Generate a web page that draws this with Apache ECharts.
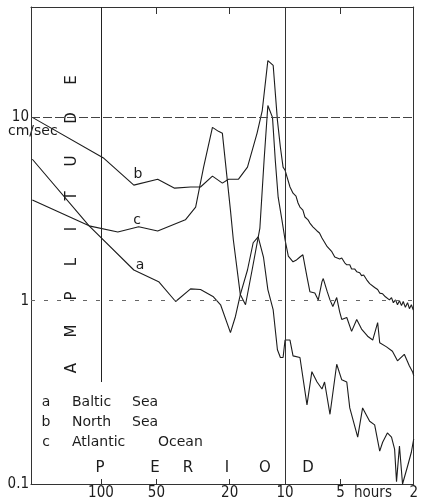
<!DOCTYPE html>
<html><head><meta charset="utf-8">
<script src="https://cdn.jsdelivr.net/npm/echarts@6/dist/echarts.min.js"></script>
<style>html,body{margin:0;padding:0;background:#fff}#c{width:421px;height:504px}</style>
</head><body><div id="c"></div>
<script>
// Axis ticks and labels
const periodTicks = [100, 50, 20, 10, 5, 2];
const periodTickLabels = ['100', '50', '20', '10', '5', '2'];
const periodTopTicks = [50, 20, 5];
const amplitudeTicks = [0.1, 1, 10];
const amplitudeTickLabels = ['0.1', '1', '10'];
const seriesLetters = ['a', 'b', 'c'];
const seriesNames = ['Baltic', 'North', 'Atlantic'];
const seriesNames2 = ['Sea', 'Sea', 'Ocean'];

// [period (hours), amplitude (cm/sec)]
const baltic = [
  [236,5.91],[116,2.56],[66.3,1.47],[48.6,1.27],[39.3,0.99],[32.6,1.16],[28.8,1.15],
  [24.5,1.05],[22.4,0.95],[19.8,0.67],[18.6,0.82],[17.5,1.08],[16.0,1.47],[14.9,2.07],
  [14.0,2.23],[13.1,1.73],[12.4,1.15],[11.6,0.89],[11.0,0.54],[10.6,0.49],[10.25,0.49],
  [10,0.61],[9.4,0.61],[9.05,0.50],[8.3,0.49],[7.6,0.27],[7.15,0.41],[6.7,0.36],
  [6.3,0.33],[6.1,0.36],[5.7,0.24],[5.24,0.45],[4.92,0.37],[4.62,0.36],[4.45,0.26],
  [4.03,0.18],[3.79,0.26],[3.47,0.22],[3.26,0.21],[3.06,0.151],[2.95,0.169],[2.78,0.19],
  [2.64,0.18],[2.54,0.155],[2.48,0.103],[2.39,0.161],[2.30,0.1],[2.16,0.125],[2.06,0.149],[2.0,0.176]
];
const northSea = [
  [236,10],[96.4,5.98],[66.3,4.27],[49.2,4.60],[39.8,4.11],[32.6,4.17],[28.8,4.17],
  [24.8,4.78],[21.9,4.38],[20.3,4.60],[17.9,4.60],[16.0,5.35],[14.2,8.18],[13.3,10.9],
  [12.4,20.4],[11.6,19.2],[11.0,9.63],[10.6,6.87],[10.25,5.35],
  [10,5.15],[9.75,4.72],[9.4,4.17],[9.05,3.86],[8.72,3.72],[8.5,3.41],[8.3,3.24],[8.0,3.12],
  [7.8,2.86],[7.5,2.76],[7.33,2.65],[7.06,2.53],[6.89,2.56],[6.7,2.40],[6.5,2.34],[6.3,2.20],
  [6.15,2.23],[5.9,1.97],[5.78,2.01],[5.57,1.85],[5.37,1.73],[5.24,1.76],[5.05,1.69],[4.92,1.71],
  [4.74,1.61],[4.62,1.57],[4.45,1.57],[4.35,1.49],[4.19,1.49],[4.08,1.44],[3.93,1.42],[3.84,1.37],
  [3.74,1.38],[3.60,1.30],[3.47,1.24],[3.39,1.25],[3.26,1.18],[3.14,1.15],[3.06,1.10],[2.95,1.09],
  [2.85,1.05],[2.78,1.05],[2.71,1.01],[2.64,1.04],[2.58,0.975],[2.51,1.01],[2.45,0.95],[2.39,1.0],
  [2.33,0.94],[2.28,0.99],[2.22,0.92],[2.16,0.975],[2.11,0.905],[2.06,0.95],[2.01,0.89]
];
const atlantic = [
  [236,3.54],[116,2.56],[81,2.37],[62.4,2.53],[49.2,2.40],[34.8,2.76],[30.6,3.24],[27.7,5.35],
  [24.8,8.82],[23.0,8.39],[21.9,8.18],[19.8,3.12],[19.1,2.15],[17.5,1.08],[16.4,0.95],[15.1,1.47],
  [13.7,2.49],[13.0,5.84],[12.4,11.6],[11.7,10],[11.3,5.84],[10.9,3.67],[10.4,2.76],[10,2.15],
  [9.6,1.75],[9.05,1.63],[8.72,1.66],[8.3,1.73],[8.0,1.78],[7.6,1.35],[7.33,1.12],[6.89,1.10],
  [6.6,1.01],[6.3,1.27],[6.2,1.32],[5.9,1.12],[5.7,1.01],[5.5,0.93],[5.24,1.04],[5.05,0.87],
  [4.92,0.79],[4.62,0.81],[4.35,0.68],[4.08,0.79],[3.84,0.70],[3.56,0.64],[3.34,0.61],[3.14,0.76],
  [3.06,0.59],[2.81,0.56],[2.61,0.53],[2.45,0.47],[2.25,0.51],[2.11,0.44],[2.03,0.41],[2.0,0.39]
];

const ink = '#1c1c1c';
const numFont = '"Liberation Sans Narrow","DejaVu Sans Condensed",sans-serif';
const txtFont = '"DejaVu Sans",sans-serif';

function labelFor(ticks, labels) {
  return function (v) {
    let best = 0, bd = Infinity;
    ticks.forEach((t, i) => { const d = Math.abs(Math.log(v / t)); if (d < bd) { bd = d; best = i; } });
    return bd < 0.01 ? labels[best] : '';
  };
}

const chart = echarts.init(document.getElementById('c'), null, {renderer: 'canvas'});

function txt(s, x, y, opts) {
  return Object.assign({
    type: 'text', x: x, y: y, silent: true,
    style: Object.assign({text: s, fill: ink, font: '14px ' + txtFont, textAlign: 'center', textVerticalAlign: 'middle'}, (opts && opts.style) || {})
  }, opts && opts.rotation !== undefined ? {rotation: opts.rotation} : {});
}

const graphics = [];
graphics.push(txt('cm/sec', 8, 131, {style: {textAlign: 'left', font: '14px ' + txtFont}}));
const ampLetters = ['A','M','P','L','I','T','U','D','E'];
const ampY = [368, 331, 296, 262, 229, 196, 161, 118, 80];
ampLetters.forEach((l, i) => graphics.push(txt(l, 72, ampY[i], {rotation: Math.PI / 2, style: {font: '15px ' + txtFont}})));
const perLetters = ['P','E','R','I','O','D'];
const perX = [100, 155, 188, 227, 265, 308];
perLetters.forEach((l, i) => graphics.push(txt(l, perX[i], 468, {style: {font: '15px ' + txtFont}})));
const legY = [402, 422, 442];
const leg2X = [132, 132, 158];
seriesLetters.forEach((l, i) => {
  graphics.push(txt(l, 46, legY[i], {style: {font: '14px ' + txtFont}}));
  graphics.push(txt(seriesNames[i], 72, legY[i], {style: {textAlign: 'left', font: '14px ' + txtFont}}));
  graphics.push(txt(seriesNames2[i], leg2X[i], legY[i], {style: {textAlign: 'left', font: '14px ' + txtFont}}));
});
graphics.push(txt('a', 140, 265));
graphics.push(txt('b', 138, 174));
graphics.push(txt('c', 137, 220));
graphics.push(txt('hours', 354, 493, {style: {textAlign: 'left', font: '15px ' + numFont}}));

const gridMarks = {
  silent: true, symbol: 'none', label: {show: false}, animation: false,
  data: [
    [{coord: [100, 0.36], lineStyle: {color: '#222', width: 1, type: 'solid'}}, {coord: [100, 40]}],
    [{coord: [10, 0.1], lineStyle: {color: '#333', width: 1, type: 'solid'}}, {coord: [10, 40]}],
    [{coord: [240, 10], lineStyle: {color: '#444', width: 1, type: [9, 3]}}, {coord: [2, 10]}],
    [{coord: [240, 1], lineStyle: {color: '#666', width: 1, type: [4, 9]}}, {coord: [2, 1]}]
  ]
};

function lineSeries(name, data, extra) {
  return Object.assign({
    name: name, type: 'line', data: data, showSymbol: false, symbol: 'none',
    xAxisIndex: 0, yAxisIndex: 0,
    lineStyle: {color: ink, width: 1.1}, silent: true, animation: false
  }, extra || {});
}

chart.setOption({
  animation: false,
  backgroundColor: '#fff',
  grid: {left: 31, right: 7, top: 7, bottom: 20, containLabel: false},
  xAxis: [
    {type: 'log', logBase: 10, min: 2, max: 240, inverse: true, position: 'bottom',
     axisLine: {show: true, onZero: false, lineStyle: {color: '#333', width: 1}},
     axisTick: {show: true, inside: true, length: 5, customValues: periodTicks, lineStyle: {color: '#333'}},
     axisLabel: {show: true, customValues: periodTicks, formatter: labelFor(periodTicks, periodTickLabels), color: ink, fontSize: 15, fontFamily: numFont, margin: 2},
     splitLine: {show: false}},
    {type: 'log', logBase: 10, min: 2, max: 240, inverse: true, position: 'top',
     axisLine: {show: true, onZero: false, lineStyle: {color: '#333', width: 1}},
     axisTick: {show: true, inside: true, length: 7, customValues: periodTopTicks, lineStyle: {color: '#333'}},
     axisLabel: {show: false}, splitLine: {show: false}}
  ],
  yAxis: [
    {type: 'log', logBase: 10, min: 0.1, max: 40, position: 'left',
     axisLine: {show: true, onZero: false, lineStyle: {color: '#333', width: 1}},
     axisTick: {show: false},
     axisLabel: {show: true, customValues: amplitudeTicks, formatter: labelFor(amplitudeTicks, amplitudeTickLabels), color: ink, fontSize: 15, fontFamily: numFont, margin: 2},
     splitLine: {show: false}},
    {type: 'log', logBase: 10, min: 0.1, max: 40, position: 'right',
     axisLine: {show: true, onZero: false, lineStyle: {color: '#333', width: 1}},
     axisTick: {show: false}, axisLabel: {show: false}, splitLine: {show: false}}
  ],
  series: [
    lineSeries('Baltic Sea', baltic, {markLine: gridMarks}),
    lineSeries('North Sea', northSea),
    lineSeries('Atlantic Ocean', atlantic)
  ],
  graphic: graphics
});
</script>
</body></html>
